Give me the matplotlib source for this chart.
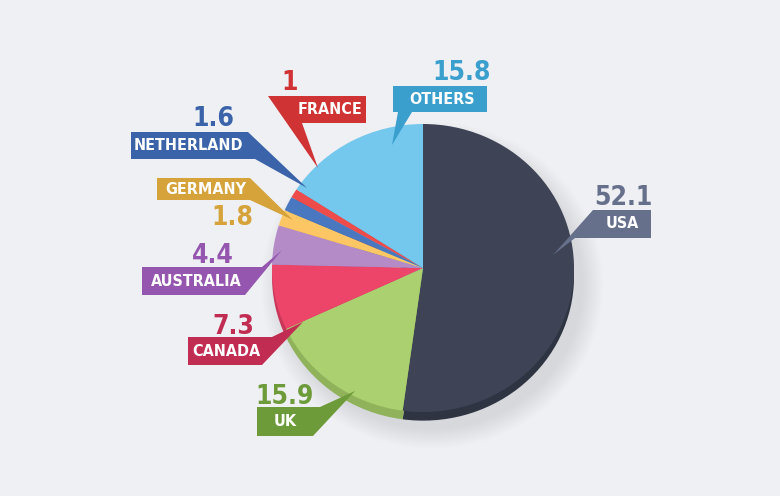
import matplotlib
matplotlib.use("Agg")
import matplotlib.pyplot as plt
from matplotlib import font_manager
from matplotlib.patches import Polygon, Ellipse
import numpy as np

# ---- data ----
countries = ["USA", "UK", "CANADA", "AUSTRALIA", "GERMANY", "NETHERLAND", "FRANCE", "OTHERS"]
values = [52.1, 15.9, 7.3, 4.4, 1.8, 1.6, 1.0, 15.8]
value_labels = ["52.1", "15.9", "7.3", "4.4", "1.8", "1.6", "1", "15.8"]

slice_colors = ["#3e4455", "#abd070", "#ec4569", "#b48bc7", "#fcc664", "#4a78c0", "#ee4b4b", "#74c8ee"]
depth_colors = ["#2f3442", "#8fb25a", "#c8375a", "#9a74ab", "#d9a94f", "#3a62a0", "#c93c3c", "#5aa9cc"]
box_colors = ["#66708b", "#6e9b3a", "#c12d52", "#9456ae", "#d6a23a", "#3a63a9", "#cf3333", "#3a9fcd"]

names = {f.name for f in font_manager.fontManager.ttflist}
if "Liberation Sans Narrow" in names:
    FONT = dict(family="Liberation Sans Narrow", weight="bold")
else:
    FONT = dict(family="DejaVu Sans", weight="bold", stretch="condensed")

W, H = 780, 496
BG = "#eff0f4"
fig = plt.figure(figsize=(W / 100, H / 100), dpi=100, facecolor=BG)

# pie axes (pixel geometry of the disc)
cx, cy, rx, ry = 423, 268, 151, 144
axp = fig.add_axes([(cx - rx) / W, 1 - (cy + ry) / H, 2 * rx / W, 2 * ry / H])
axp.axis("off")
axp.patch.set_alpha(0)

# soft shadow
for i in range(12):
    s = 1.0 + i * 0.012
    axp.add_patch(Ellipse((0.06, -0.12), 2 * s, 2 * s, facecolor="#9aa0ad",
                          alpha=0.022, edgecolor="none", zorder=0, clip_on=False))

# depth layer
w_d, _ = axp.pie(values, colors=depth_colors, startangle=90, counterclock=False,
                 radius=1, center=(0, -0.06), wedgeprops=dict(linewidth=0))
for w in w_d:
    w.set_zorder(1)
    w.set_clip_on(False)
w_t, _ = axp.pie(values, colors=slice_colors, startangle=90, counterclock=False,
                 radius=1, center=(0, 0), wedgeprops=dict(linewidth=0))
for w in w_t:
    w.set_zorder(2)
    w.set_clip_on(False)
axp.set_aspect("auto")
axp.set_xlim(-1, 1)
axp.set_ylim(-1, 1)

# overlay axes in pixel coordinates for callouts
ax = fig.add_axes([0, 0, 1, 1])
ax.set_xlim(0, W)
ax.set_ylim(H, 0)
ax.axis("off")
ax.patch.set_alpha(0)

# callout layout: polygon, label centre, number position
layout = {
    "USA": dict(poly=[(593, 210), (651, 210), (651, 238), (575, 238), (553, 255)],
                lab=(622, 224), num=(623, 198)),
    "UK": dict(poly=[(257, 407), (320, 407), (355, 391), (313, 436), (257, 436)],
               lab=(285, 422), num=(285, 397)),
    "CANADA": dict(poly=[(188, 337), (272, 337), (303, 322), (262, 365), (188, 365)],
                   lab=(226, 351), num=(233, 327)),
    "AUSTRALIA": dict(poly=[(142, 267), (262, 267), (282, 250), (245, 295), (142, 295)],
                      lab=(196, 281), num=(213, 256)),
    "GERMANY": dict(poly=[(157, 178), (250, 178), (293, 220), (250, 200), (157, 200)],
                    lab=(206, 189), num=(232, 218)),
    "NETHERLAND": dict(poly=[(131, 132), (248, 132), (307, 188), (255, 159), (131, 159)],
                       lab=(188, 145), num=(213, 119)),
    "FRANCE": dict(poly=[(268, 96), (366, 96), (366, 123), (302, 123), (318, 168)],
                   lab=(330, 109), num=(290, 83)),
    "OTHERS": dict(poly=[(393, 86), (487, 86), (487, 112), (412, 112), (392, 145), (398, 112), (393, 112)],
                   lab=(442, 99), num=(462, 73)),
}

for name, vlab, bc in zip(countries, value_labels, box_colors):
    L = layout[name]
    ax.add_patch(Polygon(L["poly"], closed=True, facecolor=bc, edgecolor="none", zorder=5))
    ax.text(L["lab"][0], L["lab"][1], name, color="white", fontsize=11.5,
            ha="center", va="center", zorder=6, **FONT)
    ax.text(L["num"][0], L["num"][1], vlab, color=bc, fontsize=19,
            ha="center", va="center", zorder=6, **FONT)

fig.savefig("out.png", dpi=100, facecolor=BG)
